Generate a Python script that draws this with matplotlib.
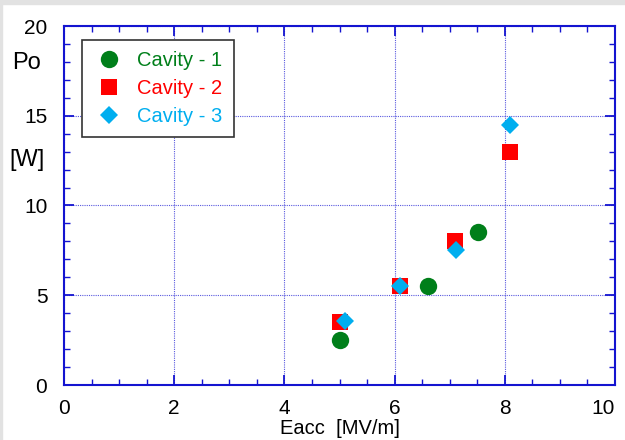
import matplotlib
matplotlib.use('Agg')
import matplotlib.pyplot as plt
from matplotlib.ticker import MultipleLocator
from matplotlib.patches import Rectangle

plt.rcParams['font.family'] = ['Liberation Sans', 'DejaVu Sans']

# data
c1_x = [5.0, 6.6, 7.52]
c1_y = [2.5, 5.5, 8.5]
c2_x = [5.0, 6.1, 7.1, 8.1]
c2_y = [3.5, 5.5, 8.0, 13.0]
c3_x = [5.1, 6.1, 7.12, 8.1]
c3_y = [3.55, 5.5, 7.5, 14.5]
labels = ['Cavity - 1', 'Cavity - 2', 'Cavity - 3']
colors = ['#007F1A', '#FF0000', '#00AEEF']
x_ticks = [0, 2, 4, 6, 8, 10]

blue = '#1414D0'

fig = plt.figure(figsize=(6.25, 4.4), dpi=100)
ax = fig.add_axes([64/625, 1-385/440, (615-64)/625, (385-26)/440])

# grey frame bits of the screenshot
fig.patches.append(Rectangle((0, 1-4/440), 1, 4/440, transform=fig.transFigure,
                             color='#E2E2E2', zorder=0))
fig.patches.append(Rectangle((0, 0), 2/625, 1, transform=fig.transFigure,
                             color='#E2E2E2', zorder=0))

ax.plot(c1_x, c1_y, 'o', color=colors[0], ms=12.5, mew=0, label=labels[0], zorder=3)
ax.plot(c2_x, c2_y, 's', color=colors[1], ms=12, mew=0, label=labels[1], zorder=3)
ax.plot(c3_x, c3_y, 'D', color=colors[2], ms=9.5, mew=0, label=labels[2], zorder=4)

ax.set_xlim(0, 10)
ax.set_ylim(0, 20)
ax.set_xticks(x_ticks, [str(v) for v in x_ticks])
ax.xaxis.set_minor_locator(MultipleLocator(0.5))
ax.yaxis.set_major_locator(MultipleLocator(5))
ax.yaxis.set_minor_locator(MultipleLocator(1))
ax.tick_params(which='both', direction='in', top=True, right=True, color=blue,
               labelsize=15, labelcolor='black')
ax.tick_params(axis='x', pad=10)
ax.tick_params(axis='y', pad=12)
ax.tick_params(which='major', length=7, width=1.3)
ax.tick_params(which='minor', length=4, width=1)
for s in ax.spines.values():
    s.set_color(blue)
    s.set_linewidth(1.5)
ax.grid(True, which='major', color=blue, linestyle=(0, (1, 1)), linewidth=0.8, alpha=0.7)

# keep the last x label inside the figure
ax.get_xticklabels()[-1].set_horizontalalignment('right')

ax.set_xlabel('Eacc  [MV/m]', fontsize=14.5, labelpad=1)
fig.text(27/625, 1-63/440, 'Po', fontsize=17, ha='center', va='center')
fig.text(27/625, 1-160/440, '[W]', fontsize=17, ha='center', va='center')

leg = ax.legend(loc='upper left', bbox_to_anchor=(18/551, 1-14/359), fontsize=14.5,
                fancybox=False, edgecolor='#333333', framealpha=1, borderaxespad=0,
                handletextpad=0.6, borderpad=0.55, labelspacing=0.45,
                handlelength=1.6)
leg.get_frame().set_linewidth(1.2)
for t, c in zip(leg.get_texts(), colors):
    t.set_color(c)

fig.savefig('out.png', dpi=100)
